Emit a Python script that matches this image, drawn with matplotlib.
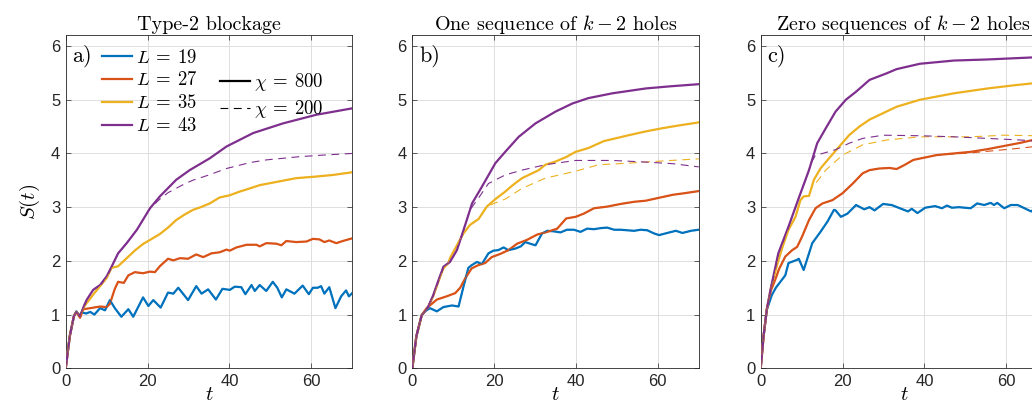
import numpy as np
import matplotlib.pyplot as plt
from matplotlib.lines import Line2D

plt.rcParams['mathtext.fontset'] = 'cm'
plt.rcParams['font.family'] = 'Liberation Sans'

# colores por defecto de MATLAB (L=19, 27, 35, 43)
colores = ['#0072BD', '#D95319', '#EDB120', '#7E2F8E']
L_vals = [19, 27, 35, 43]
titulos = ['Type-2 blockage', r'One sequence of $k-2$ holes', r'Zero sequences of $k-2$ holes']
letras = ['a)', 'b)', 'c)']

# ---------------- panel a) ----------------
a_t19 = [0, 1, 2, 2.6, 3.3, 4, 5, 6, 7, 8.4, 9.6, 10.8, 12, 13.6, 15.3, 16.5, 18.9, 20.2, 21.4, 23.2,
         25, 26.3, 27.5, 29.9, 31.9, 33.2, 34.8, 36.7, 38.3, 40.1, 41.3, 42.9, 43.9, 45.4, 46.2, 47.4,
         49, 50.6, 51.7, 52.8, 53.9, 55.9, 57.9, 59.4, 60.4, 61.6, 62.4, 63.2, 64.4, 65.9, 67.3, 68.5, 69.2, 70]
a_s19 = [0, 0.6, 0.97, 1.06, 0.98, 1.04, 1.02, 1.05, 1.0, 1.12, 1.08, 1.27, 1.12, 0.96, 1.1, 0.96, 1.32, 1.16,
         1.27, 1.13, 1.41, 1.39, 1.5, 1.27, 1.53, 1.39, 1.47, 1.28, 1.48, 1.46, 1.52, 1.51, 1.38, 1.55, 1.44,
         1.55, 1.44, 1.61, 1.5, 1.32, 1.47, 1.39, 1.54, 1.38, 1.5, 1.5, 1.53, 1.39, 1.51, 1.12, 1.34, 1.45, 1.34, 1.4]
a_t27 = [0, 1, 2, 2.6, 3.5, 4.3, 6, 8.4, 10, 10.8, 12, 12.8, 14.2, 15.3, 16.9, 18.9, 20.6, 21.8, 23, 25,
         26.3, 27.9, 29.9, 31.9, 33.6, 35.6, 37.6, 39.3, 40.1, 41.7, 44.2, 46.6, 47.4, 49, 51.5, 52.7, 53.9,
         56.3, 58.8, 60.4, 62, 63.2, 64.4, 66.1, 67.7, 70]
a_s27 = [0, 0.6, 0.97, 1.05, 0.94, 1.1, 1.12, 1.15, 1.14, 1.2, 1.48, 1.61, 1.59, 1.73, 1.79, 1.77, 1.8, 1.79,
         1.9, 2.04, 2.01, 2.05, 2.04, 2.12, 2.07, 2.14, 2.16, 2.21, 2.19, 2.25, 2.3, 2.3, 2.27, 2.33, 2.32, 2.29,
         2.37, 2.35, 2.36, 2.41, 2.4, 2.35, 2.38, 2.33, 2.37, 2.42]
a_t35 = [0, 1, 2, 2.6, 3.5, 4.5, 5.5, 7, 8.4, 10, 11.2, 12.8, 14.9, 17, 19, 20.6, 23, 25, 27, 29,
         31.1, 33, 35.2, 37.6, 40, 42.5, 45, 47.4, 51.5, 56.3, 61.2, 65.3, 70]
a_s35 = [0, 0.6, 0.97, 1.05, 0.97, 1.15, 1.25, 1.4, 1.53, 1.68, 1.87, 1.9, 2.05, 2.2, 2.32, 2.39, 2.5, 2.62,
         2.76, 2.86, 2.95, 3.0, 3.07, 3.18, 3.22, 3.29, 3.35, 3.41, 3.47, 3.54, 3.57, 3.6, 3.65]
a_t43 = [0, 1, 2, 2.6, 3.5, 4.5, 5.1, 6.7, 8.4, 10, 11.2, 12.8, 14.9, 17.4, 20.6, 23, 27, 30.3, 35.2, 39.3,
         45.8, 53.1, 61.2, 70]
a_s43 = [0, 0.6, 0.97, 1.05, 0.97, 1.17, 1.27, 1.46, 1.55, 1.71, 1.89, 2.14, 2.33, 2.58, 2.98, 3.2, 3.51,
         3.69, 3.91, 4.13, 4.38, 4.56, 4.72, 4.84]
# chi=200 (solo la parte que se separa de chi=800)
a_t43d = [20.6, 23, 25, 28.7, 31, 35, 39.3, 45, 49, 57.1, 63, 70]
a_s43d = [2.98, 3.15, 3.27, 3.42, 3.5, 3.6, 3.72, 3.83, 3.88, 3.94, 3.97, 4.0]

# ---------------- panel b) ----------------
b_t19 = [0, 1, 2.3, 3.1, 4.3, 6, 7.6, 9.7, 11.3, 12.5, 13.7, 14.5, 15.8, 17, 18.6, 19.8, 21, 22.3, 23.5, 25.2,
         26.5, 27.6, 28.8, 30.1, 31.7, 33, 34.6, 36.2, 37.8, 39.5, 41.1, 42.7, 44.4, 46, 47.6, 49.3, 50.9,
         52.5, 54.2, 55.8, 57.4, 59.1, 60.3, 62.3, 64.4, 66, 68.1, 70]
b_s19 = [0, 0.6, 0.99, 1.06, 1.12, 1.06, 1.14, 1.17, 1.15, 1.52, 1.87, 1.92, 1.98, 1.94, 2.14, 2.19, 2.2, 2.25,
         2.2, 2.23, 2.27, 2.35, 2.32, 2.29, 2.51, 2.56, 2.55, 2.53, 2.58, 2.58, 2.54, 2.6, 2.59, 2.61, 2.62,
         2.58, 2.58, 2.57, 2.56, 2.58, 2.57, 2.51, 2.48, 2.52, 2.56, 2.52, 2.56, 2.58]
b_t27 = [0, 1, 2.3, 3.5, 6, 8.4, 10.5, 11.7, 12.9, 14.5, 16.1, 17.8, 19.4, 21.5, 23.5, 25.6, 28, 30.5, 33, 35.4,
         37.6, 39.9, 41.9, 44.4, 47.6, 50.9, 54.2, 57, 60, 63.6, 66.5, 70]
b_s27 = [0, 0.6, 0.99, 1.12, 1.28, 1.34, 1.4, 1.5, 1.67, 1.86, 1.92, 1.96, 2.07, 2.13, 2.2, 2.32, 2.39, 2.49,
         2.54, 2.6, 2.79, 2.82, 2.88, 2.98, 3.01, 3.06, 3.1, 3.12, 3.17, 3.23, 3.26, 3.3]
b_t35 = [0, 1, 2.3, 3.1, 3.9, 5.1, 6.4, 7.6, 8.8, 9.2, 10.9, 12.5, 14.1, 16.2, 18.2, 20.3, 22.7, 24.7, 26.8, 30.9,
         32.5, 35, 37.5, 39.9, 43, 46.8, 52.9, 57, 61.1, 65, 69.3, 70]
b_s35 = [0, 0.6, 0.99, 1.06, 1.15, 1.34, 1.62, 1.86, 1.96, 2.05, 2.29, 2.51, 2.67, 2.78, 3.01, 3.15, 3.29, 3.42,
         3.54, 3.69, 3.79, 3.85, 3.93, 4.03, 4.1, 4.23, 4.34, 4.41, 4.47, 4.52, 4.57, 4.58]
b_t43 = [0, 1, 2.3, 3.1, 3.9, 5.1, 6.4, 7.6, 9.2, 10.9, 12.5, 14.1, 14.6, 17, 20.3, 22.7, 26, 30.1, 35, 39.1,
         43, 48.9, 57, 63, 70]
b_s43 = [0, 0.6, 0.99, 1.06, 1.15, 1.36, 1.64, 1.89, 1.98, 2.2, 2.57, 2.95, 3.07, 3.38, 3.82, 4.03, 4.31,
         4.56, 4.78, 4.93, 5.03, 5.12, 5.21, 5.25, 5.29]
b_t35d = [18.2, 20.3, 22.7, 26.8, 32.5, 39.9, 45.6, 52.9, 61.1, 70]
b_s35d = [3.01, 3.08, 3.15, 3.35, 3.54, 3.67, 3.79, 3.82, 3.86, 3.9]
b_t43d = [14.1, 16, 18.6, 22.7, 26.8, 32.5, 39.9, 48.9, 57, 63.6, 70]
b_s43d = [2.95, 3.15, 3.44, 3.6, 3.69, 3.79, 3.87, 3.87, 3.84, 3.81, 3.75]

# ---------------- panel c) ----------------
c_t19 = [0, 0.7, 1.5, 2.7, 3.7, 4.8, 6, 6.8, 8.9, 9.3, 10.5, 12.6, 14.6, 16.3, 17.9, 18.3, 19.6, 21.2, 23.3, 25.3,
         26.6, 27.8, 29.9, 32, 34, 36, 36.9, 38.3, 40.2, 42.6, 44.3, 45.5, 46.7, 48.4, 51.3, 52.9, 54.6, 56.2,
         57, 57.8, 59.5, 61.1, 62.8, 66.1, 67, 68.5, 70]
c_s19 = [0, 0.6, 1.09, 1.36, 1.5, 1.61, 1.73, 1.96, 2.02, 2.04, 1.83, 2.33, 2.54, 2.73, 2.95, 2.94, 2.82, 2.88,
         3.04, 2.96, 3.0, 2.94, 3.06, 3.04, 2.98, 2.92, 2.97, 2.89, 2.99, 3.02, 2.98, 3.03, 2.99, 3.0, 2.98, 3.07,
         3.04, 3.08, 3.04, 3.08, 2.98, 3.04, 3.04, 2.92, 2.98, 3.0, 2.97]
c_t27 = [0, 0.7, 1.5, 2.5, 3.5, 4.5, 6, 7.7, 8.9, 10.1, 11.8, 13.4, 15.1, 17.5, 20, 22.5, 24.9, 26.6, 29, 31.5,
         33.2, 35, 37.3, 43, 51.3, 55.4, 59.5, 63.6, 67, 70]
c_s27 = [0, 0.6, 1.1, 1.45, 1.64, 1.85, 2.08, 2.2, 2.26, 2.45, 2.76, 2.98, 3.07, 3.13, 3.26, 3.44, 3.63, 3.69,
         3.72, 3.73, 3.71, 3.78, 3.88, 3.97, 4.03, 4.08, 4.14, 4.2, 4.26, 4.3]
c_t35 = [0, 0.7, 1.5, 2.5, 4.3, 5.5, 6.8, 8.5, 9.7, 10.5, 11.8, 13, 14.6, 16.7, 19.2, 21.6, 24.1, 26.6, 29.9, 33.2,
         38.9, 47.2, 55.4, 62, 67, 70]
c_s35 = [0, 0.6, 1.1, 1.5, 2.0, 2.3, 2.58, 2.82, 3.13, 3.2, 3.21, 3.51, 3.72, 3.91, 4.13, 4.34, 4.5, 4.63,
         4.75, 4.87, 5.0, 5.12, 5.21, 5.27, 5.31, 5.33]
c_t43 = [0, 0.7, 1.5, 2.5, 4.3, 6.8, 9.3, 11.8, 13.8, 15.9, 18.3, 20.8, 23.3, 26.6, 30.7, 33.2, 38.9, 47.2,
         55.4, 67, 70]
c_s43 = [0, 0.6, 1.1, 1.5, 2.14, 2.64, 3.17, 3.69, 4.19, 4.47, 4.78, 5.0, 5.15, 5.37, 5.49, 5.57, 5.67, 5.73,
         5.75, 5.79, 5.8]
c_t27d = [43, 51.3, 55.4, 59.5, 63.6, 67, 70]
c_s27d = [3.97, 4.01, 4.04, 4.07, 4.1, 4.13, 4.16]
c_t35d = [12.5, 13.4, 15.9, 20, 24.9, 30.7, 38.9, 51.3, 59.5, 67, 70]
c_s35d = [3.38, 3.44, 3.69, 3.97, 4.16, 4.25, 4.31, 4.31, 4.34, 4.33, 4.33]
c_t43d = [12.3, 13.4, 15.1, 18.3, 21.6, 24.9, 29.9, 38.9, 47.2, 55.4, 63.6, 67, 70]
c_s43d = [3.82, 3.97, 4.0, 4.07, 4.19, 4.28, 4.34, 4.33, 4.31, 4.28, 4.25, 4.23, 4.22]

solidas = [
    [(a_t19, a_s19), (a_t27, a_s27), (a_t35, a_s35), (a_t43, a_s43)],
    [(b_t19, b_s19), (b_t27, b_s27), (b_t35, b_s35), (b_t43, b_s43)],
    [(c_t19, c_s19), (c_t27, c_s27), (c_t35, c_s35), (c_t43, c_s43)],
]
# cola de chi=200 donde se separa (None = coincide con chi=800)
discontinuas = [
    [None, None, None, (a_t43d, a_s43d)],
    [None, None, (b_t35d, b_s35d), (b_t43d, b_s43d)],
    [None, (c_t27d, c_s27d), (c_t35d, c_s35d), (c_t43d, c_s43d)],
]


def curva_chi200(sol, cola):
    t, s = np.array(sol[0]), np.array(sol[1])
    if cola is None:
        return t, s
    td, sd = np.array(cola[0]), np.array(cola[1])
    m = t < td[0]
    return np.concatenate([t[m], td]), np.concatenate([s[m], sd])


fig = plt.figure(figsize=(10.32, 4.12), dpi=100)
W, H = 1032, 412
izq = [65.7, 412.3, 760.7]
ancho, abajo, alto = 286.5, 412 - 368.3, 333

for k in range(3):
    ax = fig.add_axes([izq[k] / W, abajo / H, ancho / W, alto / H])
    for i in range(4):
        t, s = solidas[k][i]
        ax.plot(t, s, '-', color=colores[i], lw=1.6, zorder=3)
        td, sd = curva_chi200(solidas[k][i], discontinuas[k][i])
        ax.plot(td, sd, '--', color=colores[i], lw=0.8, dashes=(7, 5), zorder=4)

    ax.set_xlim(0, 70)
    ax.set_ylim(0, 6.2)
    ax.set_xticks([0, 20, 40, 60])
    ax.set_yticks(range(7))
    ax.grid(True, color='#dedede', lw=0.7)
    ax.set_axisbelow(True)
    ax.tick_params(direction='in', top=True, right=True, length=3.5, width=0.5,
                   colors='#262626', labelsize=12, pad=4)
    for sp in ax.spines.values():
        sp.set_color('#262626')
        sp.set_linewidth(0.6)
    ax.set_title(titulos[k], family='cmr10', fontsize=14.5, pad=4)
    ax.text(0.024, 0.972, letras[k], transform=ax.transAxes, va='top', ha='left',
            family='cmr10', fontsize=16)
    ax.set_xlabel(r'$t$', fontsize=15, labelpad=-3)
    if k == 0:
        ax.set_ylabel(r'$S(t)$', fontsize=15, labelpad=6)
        manijas = [Line2D([], [], color=c, lw=1.6) for c in colores]
        manijas += [Line2D([], [], ls='none'),
                    Line2D([], [], color='k', lw=1.6),
                    Line2D([], [], color='k', lw=0.8, ls='--', dashes=(7, 5)),
                    Line2D([], [], ls='none')]
        etiquetas = [r'$L\:=\:%d$' % L for L in L_vals] + ['', r'$\chi\:=\:800$', r'$\chi\:=\:200$', '']
        ax.legend(manijas, etiquetas, ncol=2, loc='upper left', bbox_to_anchor=(0.125, 0.96),
                  frameon=False, fontsize=13.5, handlelength=1.62, handletextpad=0.2,
                  columnspacing=1.2, labelspacing=0.26, borderpad=0, borderaxespad=0)

fig.savefig('out.png', dpi=100)
